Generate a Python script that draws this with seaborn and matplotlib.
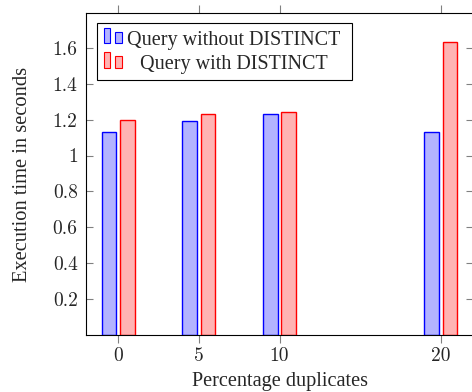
import numpy as np
import pandas as pd
import seaborn as sns
import matplotlib
matplotlib.use("Agg")
import matplotlib.pyplot as plt
from matplotlib.patches import Rectangle

# ---- data ----
pct = [0, 5, 10, 20]
without_distinct = [1.13, 1.19, 1.23, 1.13]
with_distinct = [1.20, 1.23, 1.24, 1.63]
series = ["Query without DISTINCT", "Query with DISTINCT"]
xticks = [0, 5, 10, 20]
xtick_labels = ["0", "5", "10", "20"]
yticks = [0.2, 0.4, 0.6, 0.8, 1.0, 1.2, 1.4, 1.6]
ytick_labels = ["0.2", "0.4", "0.6", "0.8", "1", "1.2", "1.4", "1.6"]
x_label = "Percentage duplicates"
y_label = "Execution time in seconds"

fills = ["#b3b3ff", "#ffb3b3"]
edges = ["#0000ff", "#ff0000"]

sns.set_style("ticks")
plt.rcParams["font.family"] = ["Liberation Serif", "DejaVu Serif"]

df = pd.DataFrame({
    "pct": pct + pct,
    "time": without_distinct + with_distinct,
    "query": [series[0]] * len(pct) + [series[1]] * len(pct),
})

W, H = 472, 392
fig = plt.figure(figsize=(W / 100, H / 100), dpi=100)
L, R, T, B = 86, 473, 13, 335
ax = fig.add_axes([L / W, (H - B) / H, (R - L) / W, (B - T) / H])

sns.barplot(data=df, x="pct", y="time", hue="query", hue_order=series,
            native_scale=True, width=0.456, gap=0.21, palette=fills,
            saturation=1, linewidth=1.0, errorbar=None, legend=False, ax=ax)
for cont, ec in zip(ax.containers, edges):
    for p in cont:
        p.set_edgecolor(ec)

ax.set_xlim(-2, 22)
ax.set_ylim(0, 1.794)

ax.set_xticks(xticks)
ax.set_xticklabels(xtick_labels, fontfamily="cmr10", fontsize=14)
ax.set_yticks(yticks)
ax.set_yticklabels(ytick_labels, fontfamily="cmr10", fontsize=14)
ax.tick_params(axis="x", direction="out", length=6, width=0.8, color="#808080",
               top=True, bottom=True, pad=2.5)
ax.tick_params(axis="y", direction="in", length=5, width=0.8, color="#808080",
               left=True, right=True, pad=6)
for s in ax.spines.values():
    s.set_visible(True)
    s.set_linewidth(0.8)
    s.set_color("black")

ax.set_xlabel(x_label, fontsize=14.6, labelpad=5)
ax.set_ylabel(y_label, fontsize=14.8, labelpad=15)

# ---- legend (pgfplots style: two small bars per entry, centred text) ----
def fx(px):
    return (px - L) / (R - L)

def fy(py):
    return (B - py) / (B - T)

ax.add_patch(Rectangle((fx(97.3), fy(80)), fx(352) - fx(97.3), fy(22.7) - fy(80),
                       transform=ax.transAxes, facecolor="white", edgecolor="black",
                       linewidth=0.8, zorder=5, clip_on=False))
rows = [(28, 31.5, 43, 45.5), (52, 55.5, 67.5, 69)]
for i, (top1, top2, bot, base) in enumerate(rows):
    for (x0, x1, tp) in [(103.5, 110, top1), (115, 121.5, top2)]:
        ax.add_patch(Rectangle((fx(x0), fy(bot)), fx(x1) - fx(x0), fy(tp) - fy(bot),
                               transform=ax.transAxes, facecolor=fills[i],
                               edgecolor=edges[i], linewidth=0.8, zorder=6,
                               clip_on=False))
    ax.text(fx(233.5), fy(base), series[i], transform=ax.transAxes, ha="center",
            va="baseline", fontsize=14.5, zorder=7)

fig.savefig("out.png", dpi=100)
